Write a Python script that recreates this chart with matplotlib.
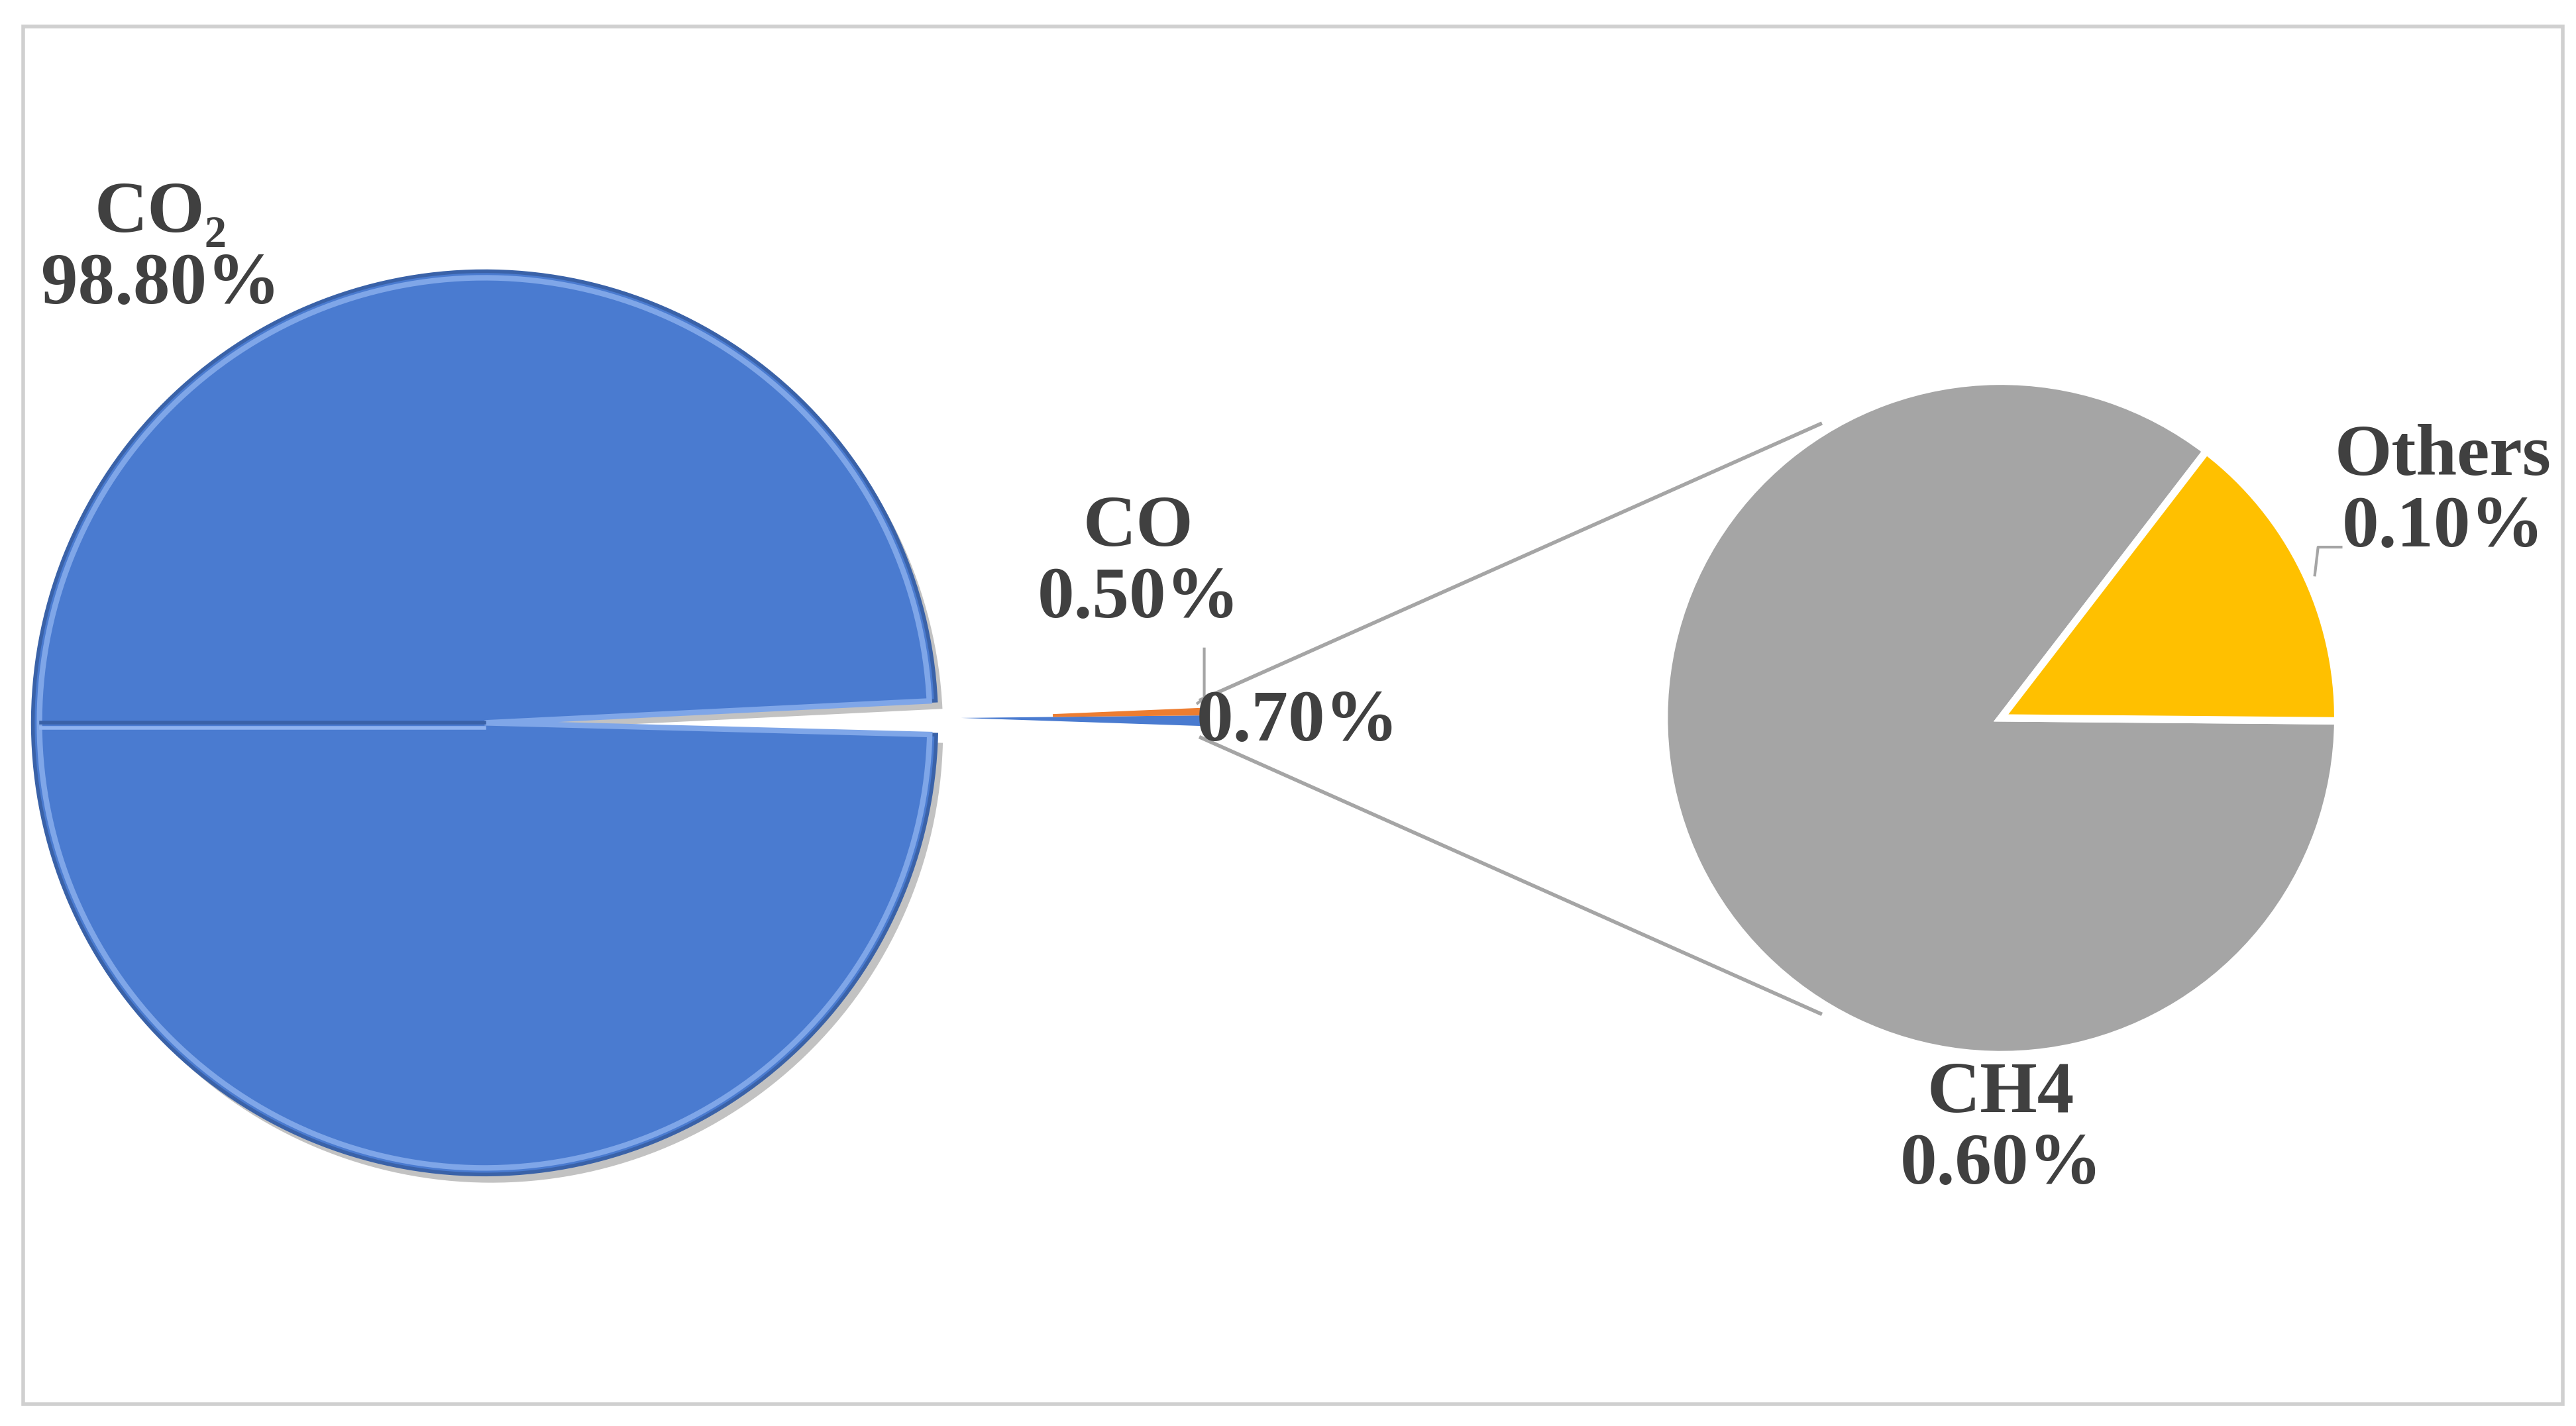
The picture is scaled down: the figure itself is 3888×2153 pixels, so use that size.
import matplotlib
matplotlib.use("Agg")
import matplotlib.pyplot as plt
from matplotlib.patches import Wedge, Rectangle

main_labels = ["CO₂", "CO", "Others group"]
main_values = [98.80, 0.50, 0.70]
sub_labels = ["Others", "CH4"]
sub_values = [0.10, 0.60]

C_BLUE = "#4A7BD0"; C_ORANGE = "#ED7D31"; C_GRAY = "#A5A5A5"; C_YEL = "#FFC000"
TXT = "#404040"
FONT = dict(family=["Liberation Serif", "DejaVu Serif"], weight="bold", fontsize=40, color=TXT)

fig = plt.figure(figsize=(19.44, 10.765), dpi=200)
ax = fig.add_axes([0, 0, 1, 1])
ax.set_xlim(0, 1568); ax.set_ylim(868, 0); ax.set_aspect("equal"); ax.axis("off")
ax.add_patch(Rectangle((14, 16), 1546, 839, fill=False, ec="#D0D0D0", lw=2))

# left pie (y axis inverted: positive angles point visually downward)
cx, cy, R = 295, 440, 275
co2_deg = main_values[0] / sum(main_values) * 360
t1 = 1.5
t2 = t1 + co2_deg
ax.add_patch(Wedge((cx + 4, cy + 5), R, t1, t2, fc="#9A9A9A", ec="none", alpha=0.6))
ax.add_patch(Wedge((cx, cy), R, t1, t2, fc=C_BLUE, ec="#3A62A8", lw=2))
ax.add_patch(Wedge((cx, cy), R - 4, t1, t2, fc="none", ec="#7FA6E8", lw=3))
ax.plot([cx - R + 5, cx], [cy, cy], color="#3A62A8", lw=2)
ax.plot([cx - R + 5, cx], [cy + 3, cy + 3], color="#8FB3F0", lw=2)

# exploded small wedges
ax_x, ax_y, r2 = 585, 437, 147
blue_deg = main_values[2] / sum(main_values) * 360
orange_deg = main_values[1] / sum(main_values) * 360
b1 = -0.6
ax.add_patch(Wedge((ax_x, ax_y), r2, b1, b1 + blue_deg, fc=C_BLUE, ec="none"))
ax.add_patch(Wedge((ax_x, ax_y), r2, b1 - orange_deg, b1, width=r2 * 0.62, fc=C_ORANGE, ec="none"))

# right pie
rx, ry, rR = 1218, 437, 205
oth_deg = sub_values[0] / sum(sub_values) * 360
ax.add_patch(Wedge((rx, ry), rR, 0.5, 360 - oth_deg - 1.0, fc=C_GRAY, ec="white", lw=4))
ax.add_patch(Wedge((rx, ry), rR, 360 - oth_deg - 1.0, 360.5, fc=C_YEL, ec="white", lw=4))

# connectors
ax.plot([731, 1108], [426, 258], color=C_GRAY, lw=2)
ax.plot([731, 1108], [449, 617], color=C_GRAY, lw=2)

# leader lines
ax.plot([733, 733, 729], [395, 425, 428], color=C_GRAY, lw=1.5)
ax.plot([1409, 1411, 1425], [350, 333, 333], color=C_GRAY, lw=1.5)

ax.text(98, 152, "CO₂\n98.80%", ha="center", va="center", linespacing=1.1, **FONT)
ax.text(693, 343, "CO\n0.50%", ha="center", va="center", linespacing=1.1, **FONT)
ax.text(790, 440, "0.70%", ha="center", va="center", **FONT)
ax.text(1487, 300, "Others\n0.10%", ha="center", va="center", linespacing=1.1, **FONT)
ax.text(1218, 688, "CH4\n0.60%", ha="center", va="center", linespacing=1.1, **FONT)

fig.savefig("out.png", dpi=200, facecolor="white")
